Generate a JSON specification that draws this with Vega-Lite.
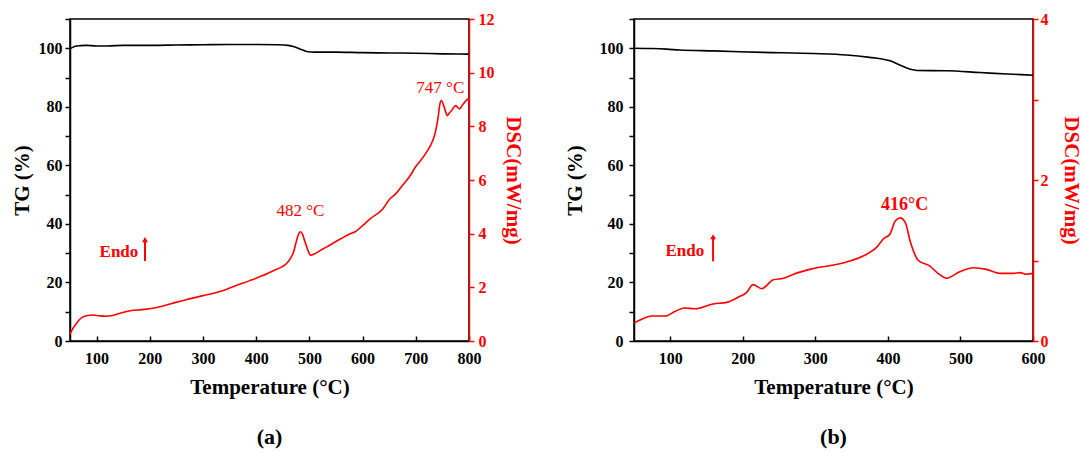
{
  "$schema": "https://vega.github.io/schema/vega-lite/v6.json",
  "padding": {"left": 10, "top": 10, "right": 5, "bottom": 5},
  "background": "white",
  "config": {
    "font": "Liberation Serif",
    "view": {"stroke": "black", "strokeWidth": 1.5},
    "axis": {
      "labelFont": "Liberation Serif", "labelFontWeight": "bold", "labelFontSize": 16,
      "titleFont": "Liberation Serif", "titleFontWeight": "bold", "titleFontSize": 21,
      "grid": false, "domainWidth": 1.5, "tickWidth": 1.5, "domainColor": "black", "tickColor": "black",
      "labelColor": "black", "titleColor": "black", "labelOverlap": false
    },
    "line": {"interpolate": "monotone"},
    "title": {"font": "Liberation Serif", "fontWeight": "bold", "fontSize": 22, "color": "black"}
  },
  "datasets": {
    "tgA": [
      {"temp": 50, "tg": 99.8}, {"temp": 55, "tg": 100.3}, {"temp": 60, "tg": 100.7}, {"temp": 70, "tg": 100.9},
      {"temp": 80, "tg": 101.0}, {"temp": 100, "tg": 100.8}, {"temp": 120, "tg": 100.8}, {"temp": 150, "tg": 101.0},
      {"temp": 200, "tg": 101.0}, {"temp": 250, "tg": 101.1}, {"temp": 300, "tg": 101.2}, {"temp": 350, "tg": 101.3},
      {"temp": 400, "tg": 101.3}, {"temp": 440, "tg": 101.2}, {"temp": 460, "tg": 101.0}, {"temp": 470, "tg": 100.6},
      {"temp": 480, "tg": 99.9}, {"temp": 490, "tg": 99.2}, {"temp": 497, "tg": 98.8}, {"temp": 510, "tg": 98.7},
      {"temp": 550, "tg": 98.7}, {"temp": 600, "tg": 98.5}, {"temp": 650, "tg": 98.4}, {"temp": 700, "tg": 98.3},
      {"temp": 750, "tg": 98.1}, {"temp": 800, "tg": 98.0}
    ],
    "dscA": [
      {"temp": 50, "dsc": 0.26}, {"temp": 55, "dsc": 0.45}, {"temp": 62, "dsc": 0.65}, {"temp": 68, "dsc": 0.8},
      {"temp": 74, "dsc": 0.89}, {"temp": 83, "dsc": 0.95}, {"temp": 93, "dsc": 0.97}, {"temp": 105, "dsc": 0.94},
      {"temp": 118, "dsc": 0.92}, {"temp": 130, "dsc": 0.95}, {"temp": 145, "dsc": 1.04}, {"temp": 163, "dsc": 1.13},
      {"temp": 185, "dsc": 1.17}, {"temp": 206, "dsc": 1.22}, {"temp": 228, "dsc": 1.32}, {"temp": 249, "dsc": 1.44},
      {"temp": 270, "dsc": 1.55}, {"temp": 300, "dsc": 1.69}, {"temp": 320, "dsc": 1.78}, {"temp": 338, "dsc": 1.88},
      {"temp": 360, "dsc": 2.05}, {"temp": 388, "dsc": 2.25}, {"temp": 410, "dsc": 2.42}, {"temp": 432, "dsc": 2.62},
      {"temp": 448, "dsc": 2.76}, {"temp": 456, "dsc": 2.87}, {"temp": 465, "dsc": 3.1}, {"temp": 470, "dsc": 3.3},
      {"temp": 475, "dsc": 3.68}, {"temp": 479, "dsc": 3.95}, {"temp": 483, "dsc": 4.07}, {"temp": 487, "dsc": 3.98},
      {"temp": 491, "dsc": 3.74}, {"temp": 496, "dsc": 3.45}, {"temp": 502, "dsc": 3.2}, {"temp": 510, "dsc": 3.25},
      {"temp": 520, "dsc": 3.37}, {"temp": 531, "dsc": 3.49}, {"temp": 545, "dsc": 3.65}, {"temp": 560, "dsc": 3.82},
      {"temp": 576, "dsc": 3.99}, {"temp": 586, "dsc": 4.07}, {"temp": 600, "dsc": 4.3}, {"temp": 614, "dsc": 4.55},
      {"temp": 638, "dsc": 4.92}, {"temp": 651, "dsc": 5.29}, {"temp": 663, "dsc": 5.5}, {"temp": 675, "dsc": 5.8},
      {"temp": 688, "dsc": 6.12}, {"temp": 700, "dsc": 6.5}, {"temp": 710, "dsc": 6.75}, {"temp": 720, "dsc": 7.03},
      {"temp": 728, "dsc": 7.3}, {"temp": 735, "dsc": 7.65}, {"temp": 739, "dsc": 8.0}, {"temp": 742, "dsc": 8.34},
      {"temp": 745, "dsc": 8.8}, {"temp": 748, "dsc": 8.96}, {"temp": 752, "dsc": 8.8}, {"temp": 756, "dsc": 8.55},
      {"temp": 759, "dsc": 8.4}, {"temp": 763, "dsc": 8.5}, {"temp": 767, "dsc": 8.58}, {"temp": 771, "dsc": 8.7},
      {"temp": 775, "dsc": 8.77}, {"temp": 779, "dsc": 8.7}, {"temp": 782, "dsc": 8.65}, {"temp": 788, "dsc": 8.8},
      {"temp": 794, "dsc": 8.95}, {"temp": 800, "dsc": 9.05}
    ],
    "tgB": [
      {"temp": 50, "tg": 100.0}, {"temp": 75, "tg": 99.9}, {"temp": 95, "tg": 99.7}, {"temp": 113, "tg": 99.4},
      {"temp": 159, "tg": 99.1}, {"temp": 228, "tg": 98.6}, {"temp": 297, "tg": 98.2}, {"temp": 343, "tg": 97.7},
      {"temp": 375, "tg": 96.9}, {"temp": 390, "tg": 96.4}, {"temp": 403, "tg": 95.7}, {"temp": 417, "tg": 94.2},
      {"temp": 431, "tg": 92.8}, {"temp": 440, "tg": 92.4}, {"temp": 481, "tg": 92.3}, {"temp": 527, "tg": 91.7},
      {"temp": 565, "tg": 91.2}, {"temp": 600, "tg": 90.8}
    ],
    "dscB": [
      {"temp": 50, "dsc": 0.224}, {"temp": 63, "dsc": 0.28}, {"temp": 74, "dsc": 0.31}, {"temp": 93, "dsc": 0.31},
      {"temp": 107, "dsc": 0.37}, {"temp": 120, "dsc": 0.41}, {"temp": 134, "dsc": 0.40}, {"temp": 159, "dsc": 0.46},
      {"temp": 178, "dsc": 0.48}, {"temp": 196, "dsc": 0.555}, {"temp": 205, "dsc": 0.60}, {"temp": 214, "dsc": 0.70},
      {"temp": 226, "dsc": 0.65}, {"temp": 242, "dsc": 0.76}, {"temp": 256, "dsc": 0.78}, {"temp": 270, "dsc": 0.83},
      {"temp": 297, "dsc": 0.90}, {"temp": 343, "dsc": 0.98}, {"temp": 375, "dsc": 1.10}, {"temp": 384, "dsc": 1.16},
      {"temp": 394, "dsc": 1.27}, {"temp": 403, "dsc": 1.33}, {"temp": 410, "dsc": 1.49}, {"temp": 417, "dsc": 1.53},
      {"temp": 424, "dsc": 1.47}, {"temp": 431, "dsc": 1.23}, {"temp": 442, "dsc": 1.00}, {"temp": 458, "dsc": 0.93},
      {"temp": 469, "dsc": 0.84}, {"temp": 481, "dsc": 0.78}, {"temp": 499, "dsc": 0.86}, {"temp": 518, "dsc": 0.91},
      {"temp": 536, "dsc": 0.89}, {"temp": 555, "dsc": 0.84}, {"temp": 573, "dsc": 0.84}, {"temp": 582, "dsc": 0.85},
      {"temp": 591, "dsc": 0.83}, {"temp": 600, "dsc": 0.84}
    ]
  },
  "hconcat": [
    {
      "width": 399, "height": 322,
      "title": {"text": "(a)", "orient": "bottom", "offset": 30},
      "resolve": {"scale": {"y": "independent"}},
      "layer": [
        {
          "data": {"name": "tgA"},
          "mark": {"type": "line", "color": "black", "strokeWidth": 1.6},
          "encoding": {
            "x": {"field": "temp", "type": "quantitative", "title": "Temperature (°C)",
                  "scale": {"domain": [50, 800], "nice": false, "zero": false},
                  "axis": {"values": [100,200,300,400,500,600,700,800],
                           "tickSize": -5, "labelPadding": 14, "titlePadding": 10, "labelFlush": false}},
            "y": {"field": "tg", "type": "quantitative", "title": "TG (%)",
                  "scale": {"domain": [0, 110], "nice": false},
                  "axis": {"values": [0,10,20,30,40,50,60,70,80,90,100,110], "labelOverlap": false,
                           "labelExpr": "datum.value % 20 === 0 && datum.value <= 100 ? datum.label : ''",
                           "tickSize": 5, "labelPadding": 3, "titlePadding": 6}}
          }
        },
        {
          "layer": [
            {
              "data": {"name": "dscA"},
              "mark": {"type": "line", "color": "#ff0000", "strokeWidth": 1.6},
              "encoding": {
                "x": {"field": "temp", "type": "quantitative", "title": "Temperature (°C)"},
                "y": {"field": "dsc", "type": "quantitative", "title": "DSC(mW/mg)",
                      "scale": {"domain": [0, 12], "nice": false},
                      "axis": {"orient": "right", "values": [0,1,2,3,4,5,6,7,8,9,10,11,12], "format": "d", "labelOverlap": false,
                               "labelExpr": "datum.value % 2 === 0 ? datum.label : ''",
                               "tickSize": 5, "labelPadding": 4, "titlePadding": 8,
                               "domainColor": "#ff0000", "tickColor": "#ff0000", "labelColor": "#ff0000", "titleColor": "#ff0000"}}
              }
            },
            {
              "data": {"values": [{"temp": 483, "dsc": 4.85, "label": "482 °C"}, {"temp": 746, "dsc": 9.43, "label": "747 °C"}]},
              "mark": {"type": "text", "color": "#ff0000", "fontSize": 17, "font": "Liberation Serif", "align": "center", "baseline": "middle"},
              "encoding": {
                "x": {"field": "temp", "type": "quantitative", "title": "Temperature (°C)"},
                "y": {"field": "dsc", "type": "quantitative", "title": "DSC(mW/mg)"},
                "text": {"field": "label"}
              }
            },
            {
              "data": {"values": [{"temp": 142, "dsc": 3.32, "label": "Endo"}]},
              "mark": {"type": "text", "color": "#ff0000", "fontSize": 17, "fontWeight": "bold", "font": "Liberation Serif", "align": "center", "baseline": "middle"},
              "encoding": {
                "x": {"field": "temp", "type": "quantitative", "title": "Temperature (°C)"},
                "y": {"field": "dsc", "type": "quantitative", "title": "DSC(mW/mg)"},
                "text": {"field": "label"}
              }
            },
            {
              "data": {"values": [{"temp": 191, "dsc": 2.98, "dsc2": 3.75}]},
              "mark": {"type": "rule", "color": "#ff0000", "strokeWidth": 2},
              "encoding": {
                "x": {"field": "temp", "type": "quantitative", "title": "Temperature (°C)"},
                "y": {"field": "dsc", "type": "quantitative", "title": "DSC(mW/mg)"},
                "y2": {"field": "dsc2"}
              }
            },
            {
              "data": {"values": [{"temp": 191, "dsc": 3.78}]},
              "mark": {"type": "point", "shape": "triangle-up", "filled": true, "color": "#ff0000", "size": 35, "opacity": 1},
              "encoding": {
                "x": {"field": "temp", "type": "quantitative", "title": "Temperature (°C)"},
                "y": {"field": "dsc", "type": "quantitative", "title": "DSC(mW/mg)"}
              }
            }
          ]
        }
      ]
    },
    {
      "width": 399, "height": 322,
      "title": {"text": "(b)", "orient": "bottom", "offset": 30},
      "resolve": {"scale": {"y": "independent"}},
      "layer": [
        {
          "data": {"name": "tgB"},
          "mark": {"type": "line", "color": "black", "strokeWidth": 1.6},
          "encoding": {
            "x": {"field": "temp", "type": "quantitative", "title": "Temperature (°C)",
                  "scale": {"domain": [50, 600], "nice": false, "zero": false},
                  "axis": {"values": [100,200,300,400,500,600],
                           "tickSize": -5, "labelPadding": 14, "titlePadding": 10, "labelFlush": false}},
            "y": {"field": "tg", "type": "quantitative", "title": "TG (%)",
                  "scale": {"domain": [0, 110], "nice": false},
                  "axis": {"values": [0,10,20,30,40,50,60,70,80,90,100,110], "labelOverlap": false,
                           "labelExpr": "datum.value % 20 === 0 && datum.value <= 100 ? datum.label : ''",
                           "tickSize": 5, "labelPadding": 6, "titlePadding": 14}}
          }
        },
        {
          "layer": [
            {
              "data": {"name": "dscB"},
              "mark": {"type": "line", "color": "#ff0000", "strokeWidth": 1.6},
              "encoding": {
                "x": {"field": "temp", "type": "quantitative", "title": "Temperature (°C)"},
                "y": {"field": "dsc", "type": "quantitative", "title": "DSC(mW/mg)",
                      "scale": {"domain": [0, 4], "nice": false},
                      "axis": {"orient": "right", "values": [0,1,2,3,4], "format": "d", "labelOverlap": false,
                               "labelExpr": "datum.value % 2 === 0 ? datum.label : ''",
                               "tickSize": 5, "labelPadding": 2, "titlePadding": 12,
                               "domainColor": "#ff0000", "tickColor": "#ff0000", "labelColor": "#ff0000", "titleColor": "#ff0000"}}
              }
            },
            {
              "data": {"values": [{"temp": 423, "dsc": 1.69, "label": "416°C"}]},
              "mark": {"type": "text", "color": "#ff0000", "fontSize": 18, "fontWeight": "bold", "font": "Liberation Serif", "align": "center", "baseline": "middle"},
              "encoding": {
                "x": {"field": "temp", "type": "quantitative", "title": "Temperature (°C)"},
                "y": {"field": "dsc", "type": "quantitative", "title": "DSC(mW/mg)"},
                "text": {"field": "label"}
              }
            },
            {
              "data": {"values": [{"temp": 120, "dsc": 1.12, "label": "Endo"}]},
              "mark": {"type": "text", "color": "#ff0000", "fontSize": 17, "fontWeight": "bold", "font": "Liberation Serif", "align": "center", "baseline": "middle"},
              "encoding": {
                "x": {"field": "temp", "type": "quantitative", "title": "Temperature (°C)"},
                "y": {"field": "dsc", "type": "quantitative", "title": "DSC(mW/mg)"},
                "text": {"field": "label"}
              }
            },
            {
              "data": {"values": [{"temp": 159, "dsc": 0.99, "dsc2": 1.28}]},
              "mark": {"type": "rule", "color": "#ff0000", "strokeWidth": 2},
              "encoding": {
                "x": {"field": "temp", "type": "quantitative", "title": "Temperature (°C)"},
                "y": {"field": "dsc", "type": "quantitative", "title": "DSC(mW/mg)"},
                "y2": {"field": "dsc2"}
              }
            },
            {
              "data": {"values": [{"temp": 159, "dsc": 1.295}]},
              "mark": {"type": "point", "shape": "triangle-up", "filled": true, "color": "#ff0000", "size": 35, "opacity": 1},
              "encoding": {
                "x": {"field": "temp", "type": "quantitative", "title": "Temperature (°C)"},
                "y": {"field": "dsc", "type": "quantitative", "title": "DSC(mW/mg)"}
              }
            }
          ]
        }
      ]
    }
  ],
  "spacing": 39
}
